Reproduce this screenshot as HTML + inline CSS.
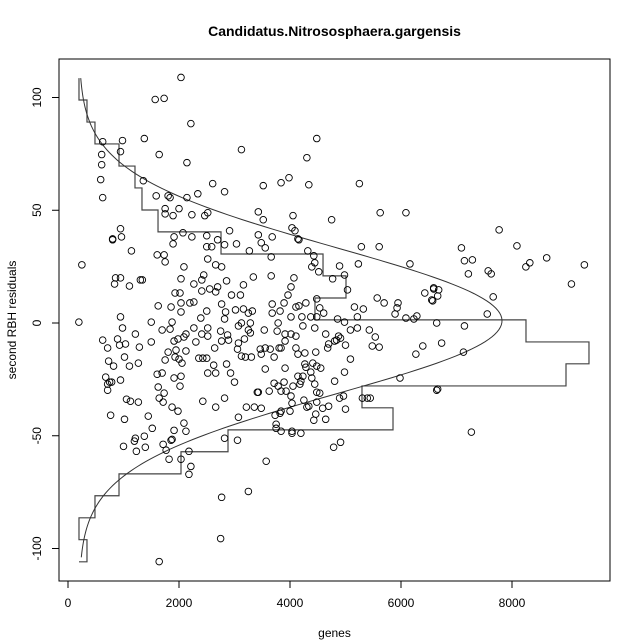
<!DOCTYPE html>
<html><head><meta charset="utf-8"><style>
html,body{margin:0;padding:0;background:#fff;}
svg{display:block;font-family:"Liberation Sans",Arial,sans-serif;}
</style></head><body>
<svg id="chart" width="640" height="640" viewBox="0 0 640 640" xmlns="http://www.w3.org/2000/svg">
<rect x="0" y="0" width="640" height="640" fill="#fff"/>
<text x="334.5" y="36" text-anchor="middle" font-size="14" font-weight="bold">Candidatus.Nitrososphaera.gargensis</text>
<text x="334.5" y="637" text-anchor="middle" font-size="12">genes</text>
<text transform="translate(16,320) rotate(-90)" text-anchor="middle" font-size="12">second RBH residuals</text>
<rect x="59" y="59" width="551" height="522" fill="none" stroke="#000" stroke-width="1"/>
<g id="axes"></g>
<g id="hist"></g>
<g id="curve"></g>
<g id="pts"></g>
</svg>
<script>
const xTicks = [0, 2000, 4000, 6000, 8000];
const yTicks = [-100, -50, 0, 50, 100];
const binEdges = [108.6, 98.9, 89.1, 79.4, 69.6, 59.9, 50.1, 40.4, 30.6, 20.9, 11.1, 1.4, -8.4, -18.1, -27.9, -37.6, -47.4, -57.1, -66.9, -76.6, -86.4, -96.1, -105.9];
const binWidths = [198, 342, 486, 919, 1207, 1333, 1622, 2757, 4595, 5009, 4450, 8252, 9387, 8973, 5297, 5856, 2883, 2036, 919, 486, 198, 342];
const histBase = 198;
const curveMean = 1;
const curveSd = 32.5;
const curvePeak = 7820;
const genes = [
804,1143,250,1607,1732,1750,1893,2089,2500,2589,2518,2661,2768,2821,3036,3268,
857,946,839,1107,1304,1339,2036,2268,2446,2411,2696,2857,2411,2554,2661,1929,2018,
1625,1857,2036,2036,2268,2196,2500,2768,2946,3107,3161,3339,
196,946,1500,1875,2393,2821,2839,3018,3161,3250,3321,3071,3125,3286,
982,1214,625,893,929,1036,1286,714,1500,1696,1839,1911,1982,2125,2089,2304,2268,2411,2518,2518,2750,2875,2768,2893,3071,3179,3250,3286,
2643,1804,1946,2125,1750,1929,2000,2054,2357,2429,2500,2625,732,821,1018,1107,1268,2857,3054,3125,3196,3304,
679,750,714,714,786,946,1607,1696,1911,2036,2018,1625,1732,1643,1714,1875,1982,2518,2661,2929,3000,
1054,1125,1268,2429,2661,2821,3214,3357,3411,
768,1018,1446,3071,2089,1911,2125,1518,1375,1214,1875,2821,
3482,3554,3661,4161,4321,4429,4446,4393,4518,4893,5232,5286,5607,6161,
3661,4071,4018,3964,4768,4982,5036,4482,4286,3893,3679,3821,3679,4107,4161,4018,4214,4375,4482,4536,4607,4857,4982,5161,5321,5214,5571,5696,5946,5929,5893,6089,6232,6286,6429,6589,6571,
3786,3768,3911,4018,4107,4232,4446,4643,4875,4804,4911,5089,5214,5429,5536,5482,5607,6393,6268,
3536,3464,3554,3643,3482,3714,3804,3839,3911,4107,4143,4268,4464,4696,4679,4839,5000,5089,
4268,4286,4411,4482,4554,3911,3554,4232,4393,4196,4143,4375,4982,4804,4446,4054,3893,3786,3714,3625,3429,3839,3929,4018,4179,4482,4536,
4250,4304,4482,4339,4036,4000,3839,3821,3732,3482,4464,4589,4696,4893,4964,5000,4429,4643,3750,3750,3839,4036,4036,4196,
5982,5304,5393,5446,6643,
2036,1571,1732,2214,625,982,1375,946,607,607,589,625,1643,2143,3125,1357,1589,1804,1839,2143,2339,2607,2821,3518,3839,3982,4339,4304,4482,
3429,3518,4054,4036,4089,4143,4750,3679,3429,1750,1750,1893,2000,2232,2464,2518,2911,946,804,964,1911,2071,2232,2500,2696,
5250,5625,6089,7089,7768,8089,8625,9304,8321,8250,7143,7286,7214,7571,7625,9071,7661,7554,7143,6732,6643,7125,6661,7268,6589,6679,6554,6661,4911,4786,
2768,3250,2750,1643,3571,3054,2179,2214,2179,2036,1821,1768,1000,1196,1232,1393,1714,1857
];
const residuals = [
36.9,32,25.8,30.2,30.2,27.1,35.1,24.9,33.8,33.8,28.4,25.8,24.9,34.7,35.1,32,
20,20,17.3,16.4,19.1,19.1,19.6,17.3,21.3,19.1,16,18.7,14.2,15.1,13.8,13.3,13.3,
7.6,7.1,4.9,8.9,9.3,8.9,5.3,8.4,12.4,12.4,16.9,20.4,
0.4,2.7,0.4,0.4,2.2,1.8,4.9,5.8,6.2,4.4,5.3,-1.3,0,0,
-2.2,-4.9,-7.6,-7.1,-9.8,-9.3,-10.7,-11.1,-8.4,-3.1,-2.7,-8,-7.1,-4.9,-6.2,-8.4,-2.2,-4.9,-5.8,-2.2,-3.6,-5.3,-8,-7.6,-8.9,-7.1,-3.1,-4.4,
-11.1,-12.9,-12,-12.4,-16.4,-15.1,-16,-17.8,-15.6,-15.6,-15.6,-18.7,-16.9,-19.1,-15.1,-19.1,-17.8,-18.2,-11.6,-14.7,-15.1,-15.1,
-24,-26.2,-27.1,-29.8,-26.2,-25.3,-22.7,-22.2,-24.4,-23.6,-28,-28.4,-31.1,-33.3,-35.1,-37.3,-39.1,-22.2,-22.2,-22.2,-26.2,
-33.8,-34.7,-35.1,-34.7,-37.3,-33.3,-37.3,-37.3,-30.7,
-40.9,-42.7,-41.3,-41.8,-44.4,-47.6,-48,-46.7,-50.2,-51.1,-51.6,-51.1,
35.6,33.3,29.3,36.9,32,29.8,26.7,24.9,22.7,25.3,26.2,33.8,33.8,26.2,
20.9,20,16,12.4,19.6,21.3,14.7,10.7,8.9,8.9,8.4,5.3,4.4,7.1,7.6,2.7,2.7,2.7,2.7,6.7,4.4,1.8,0.4,7.1,6.2,2.7,11.1,8.9,8.9,6.7,4,2.2,1.8,3.1,13.3,15.1,9.8,
0,-3.6,-4.9,-4.9,-5.8,-1.3,-2.2,-4.9,-5.8,-8,-6.7,-3.1,-2.2,-3.1,-6.2,-10.2,-10.7,-10.2,-13.8,
-3.1,-11.6,-11.1,-11.6,-13.8,-15.1,-11.1,-11.1,-8,-11.1,-13.8,-13.3,-12.9,-9.3,-11.1,-7.6,-9.8,-16,
-18.2,-19.6,-17.8,-19.1,-20,-20,-20.4,-23.6,-24.4,-25.8,-23.6,-21.8,-21.8,-25.8,-27.1,-28,-26.2,-28,-26.7,-30.2,-30.7,-30.2,-30.2,-32.4,-27.1,-30.7,-31.1,
-34.2,-37.3,-35.1,-36.9,-35.6,-39.1,-39.1,-40,-40.9,-37.8,-40.4,-37.8,-36.9,-33.3,-32.4,-38.2,-43.1,-42.7,-44.9,-46.7,-48,-48,-48.9,-48.9,
-24.4,-33.3,-33.3,-33.3,-29.8,
108.9,99.1,99.6,88.4,80.4,80.9,81.8,76,74.7,70.2,63.6,55.6,74.7,71.1,76.9,63.1,56.4,56.4,55.6,55.6,57.3,61.8,58.2,60.9,62.2,64.4,61.3,73.3,81.8,
49.3,45.8,47.6,42.2,40.9,37.3,45.8,38.2,39.1,50.7,48.4,47.6,50.7,48,47.6,48.9,40.9,41.8,37.3,38.2,38.2,40,38.2,38.7,36.9,
61.8,48.9,48.9,33.3,41.3,34.2,28.9,25.8,26.7,24.9,27.6,28,21.8,23.1,21.8,17.3,11.6,4,-1.3,-8.9,0,-12.9,-29.3,-48.4,15.6,14.7,10.2,12,-52.9,-55.1,
-77.3,-74.7,-95.6,-105.8,-61.3,-52,-56.9,-63.6,-67.1,-60.4,-60.4,-56.4,-54.7,-52.4,-56.9,-55.1,-53.8,-52
];

const NS = 'http://www.w3.org/2000/svg';
function xPos(g) { return 68 + g * 0.0555; }
function yPos(v) { return 323 - v * 2.255; }
function mk(tag, attrs, parent) {
  const el = document.createElementNS(NS, tag);
  for (const k in attrs) el.setAttribute(k, attrs[k]);
  parent.appendChild(el);
  return el;
}

const axes = document.getElementById('axes');
const xAxis = mk('line', {x1: xPos(xTicks[0]), x2: xPos(xTicks[xTicks.length-1]), y1: 581, y2: 581, stroke: '#000', 'stroke-width': 1}, axes);


xTicks.forEach(t => {
  const tk = mk('line', {x1: xPos(t), x2: xPos(t), y1: 581, y2: 588, stroke: '#000', 'stroke-width': 1}, axes);
  
  
  const lb = mk('text', {x: xPos(t), y: 607, 'text-anchor': 'middle', 'font-size': 12}, axes);
  lb.textContent = String(t);
  
  
});
const yAxis = mk('line', {x1: 59, x2: 59, y1: yPos(yTicks[0]), y2: yPos(yTicks[yTicks.length-1]), stroke: '#000', 'stroke-width': 1}, axes);


yTicks.forEach(t => {
  const tk = mk('line', {x1: 52, x2: 59, y1: yPos(t), y2: yPos(t), stroke: '#000', 'stroke-width': 1}, axes);
  
  
  const lb = mk('text', {transform: 'translate(41,' + yPos(t) + ') rotate(-90)', 'text-anchor': 'middle', 'font-size': 12}, axes);
  lb.textContent = String(t);
  
  
});

// histogram outline
let d = 'M' + xPos(histBase) + ',' + yPos(binEdges[0]);
for (let i = 0; i < binWidths.length; i++) {
  d += ' L' + xPos(binWidths[i]) + ',' + yPos(binEdges[i]);
  d += ' L' + xPos(binWidths[i]) + ',' + yPos(binEdges[i+1]);
}
d += ' L' + xPos(histBase) + ',' + yPos(binEdges[binEdges.length-1]);
const hist = mk('path', {d: d, fill: 'none', stroke: '#444', 'stroke-width': 1.2}, document.getElementById('hist'));



// normal curve
let cd = '';
const vTop = binEdges[0], vBot = binEdges[binEdges.length-1] + 2;
for (let k = 0; k <= 200; k++) {
  const v = vTop + (vBot - vTop) * k / 200;
  const z = (v - curveMean) / curveSd;
  const g = histBase + (curvePeak - histBase) * Math.exp(-z * z / 2);
  cd += (k ? ' L' : 'M') + xPos(g).toFixed(2) + ',' + yPos(v).toFixed(2);
}
const curve = mk('path', {d: cd, fill: 'none', stroke: '#333', 'stroke-width': 1}, document.getElementById('curve'));



// points
const pts = document.getElementById('pts');
for (let i = 0; i < genes.length; i++) {
  const c = mk('circle', {cx: xPos(genes[i]), cy: yPos(residuals[i]), r: 3.3, fill: 'none', stroke: '#000', 'stroke-width': 0.9}, pts);
  
  
}
</script>
</body></html>
